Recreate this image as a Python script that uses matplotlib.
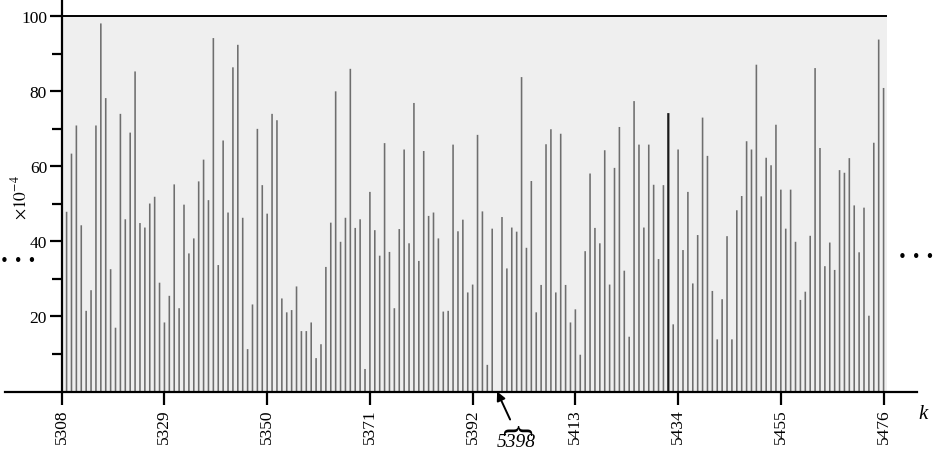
import numpy as np
import matplotlib
matplotlib.use("Agg")
import matplotlib.pyplot as plt
from matplotlib.lines import Line2D

plt.rcParams['font.family'] = ['Liberation Serif', 'DejaVu Serif']
plt.rcParams['mathtext.fontset'] = 'stix'

# ---- data (values in units of 1e-4) ----
k_first = 5309
k_last = 5476
vals_a = [47.9, 63.4, 70.9, 44.3, 21.5, 27.0, 70.9, 98.1, 78.2, 32.6,
          17.0, 74.0, 45.9, 69.0, 85.3, 44.9, 43.7, 50.1, 51.9, 29.0,
          18.4, 25.5, 55.2, 22.2, 49.8, 36.8, 40.8, 56.0, 61.8, 51.0,
          94.2, 33.7, 66.9, 47.7, 86.4, 92.4, 46.3, 11.3, 23.2, 70.0,
          55.0, 47.4]
vals_b = [74.0, 72.3, 24.8, 21.1, 21.7, 28.0, 16.1, 16.1, 18.4, 8.9,
          12.6, 33.2, 45.0, 80.0, 39.9, 46.3, 86.0, 43.6, 45.9, 6.0,
          53.2, 43.0, 36.2, 66.2, 37.2, 22.2, 43.3, 64.5, 39.5, 76.9,
          34.8, 64.1, 46.8, 47.7, 40.8, 21.3, 21.5, 65.8, 42.7, 45.8,
          26.4, 28.5]
vals_c = [68.4, 48.0, 7.1, 43.4, 0.0, 46.5, 32.8, 43.7, 42.6, 83.8,
          38.3, 56.1, 21.1, 28.4, 65.9, 69.9, 26.4, 68.7, 28.4, 18.4,
          21.9, 9.8, 37.4, 58.1, 43.6, 39.5, 64.3, 28.5, 59.6, 70.5,
          32.2, 14.6, 77.4, 65.8, 43.7, 65.8, 55.1, 35.3, 55.0, 74.2,
          17.9, 64.5]
vals_d = [37.7, 53.2, 28.8, 41.7, 73.0, 62.8, 26.8, 13.9, 24.6, 41.4,
          13.9, 48.3, 52.1, 66.7, 64.5, 87.1, 52.0, 62.3, 60.3, 71.1,
          53.8, 43.4, 53.8, 39.9, 24.4, 26.6, 41.5, 86.2, 64.9, 33.4,
          39.7, 32.4, 59.0, 58.3, 62.2, 49.6, 37.1, 49.0, 20.2, 66.3,
          93.8, 80.9]
xtick_vals = [5308, 5329, 5350, 5371, 5392, 5413, 5434, 5455, 5476]
ytick_major = [20, 40, 60, 80, 100]
ytick_minor = [10, 30, 50, 70, 90]
highlight_index = 123
marked_label = "5398"

values = np.array(vals_a + vals_b + vals_c + vals_d)
k = np.arange(k_first, k_last + 1)

# ---- figure ----
W, H = 935, 452
fig = plt.figure(figsize=(W / 100, H / 100), dpi=100)
ax_l, ax_r, ax_b = 61.7, 887.0, 59.5
ax = fig.add_axes([ax_l / W, ax_b / H, (ax_r - ax_l) / W, (H - ax_b) / H])
ax.set_xlim(5308, 5476.7)
ax.set_ylim(0, 100 * (H - ax_b) / 375.2)
ax.set_facecolor('none')

ax.axhspan(0, 100, color='#efefef', zorder=0, lw=0)
ax.axhline(100, color='black', lw=1.4, zorder=3)

colors = ['#6e6e6e'] * len(k)
widths = [1.15] * len(k)
colors[highlight_index] = '#1a1a1a'
widths[highlight_index] = 1.6
ax.vlines(k, 0, values, colors=colors, linewidths=widths, zorder=2, snap=False)

for s in ['top', 'right', 'bottom']:
    ax.spines[s].set_visible(False)
ax.spines['left'].set_linewidth(1.6)

ax.set_xticks(xtick_vals)
ax.set_xticklabels([str(v) for v in xtick_vals], rotation=90, fontsize=12.5)
ax.set_yticks(ytick_major)
ax.set_yticklabels([str(v) for v in ytick_major], fontsize=12.5)
ax.set_yticks(ytick_minor, minor=True)
ax.tick_params(axis='x', direction='out', length=9, width=1.6, pad=3)
ax.tick_params(axis='y', which='major', direction='out', length=9, width=1.6, pad=1.5)
ax.tick_params(axis='y', which='minor', direction='out', length=7.5, width=1.6)

# extended baseline
y_base = ax_b / H
fig.add_artist(Line2D([5 / W, 917 / W], [y_base, y_base], color='black',
                      lw=1.6, transform=fig.transFigure))

# axis annotations
fig.text(918 / W, (H - 415) / H, 'k', style='italic', fontsize=15,
         ha='left', va='center')
fig.text(20 / W, (H - 198) / H, r'$\times10^{-4}$', rotation=90,
         fontsize=12.5, ha='center', va='center')
fig.text(0.5 / W, (H - 261) / H, '\u2022 \u2022 \u2022', fontsize=11,
         ha='left', va='center', family='DejaVu Sans')
fig.text(934 / W, (H - 258) / H, '\u2022 \u2022 \u2022', fontsize=11,
         ha='right', va='center', family='DejaVu Sans')

# marked (missing) position
k0 = k[np.argmin(values)]
ax.annotate('', xy=(k0, 0), xytext=(13, -28), textcoords='offset pixels',
            arrowprops=dict(arrowstyle='-|>', color='black', lw=1.4,
                            mutation_scale=13, shrinkA=0, shrinkB=0),
            annotation_clip=False)
ax.annotate('}', xy=(k0, 0), xytext=(19, -35), textcoords='offset pixels',
            rotation=90, ha='center', va='center', fontsize=24,
            annotation_clip=False)
ax.annotate(marked_label, xy=(k0, 0), xytext=(19, -50),
            textcoords='offset pixels', ha='center', va='center',
            fontsize=14, style='italic', annotation_clip=False)

fig.savefig('out.png', dpi=100)
